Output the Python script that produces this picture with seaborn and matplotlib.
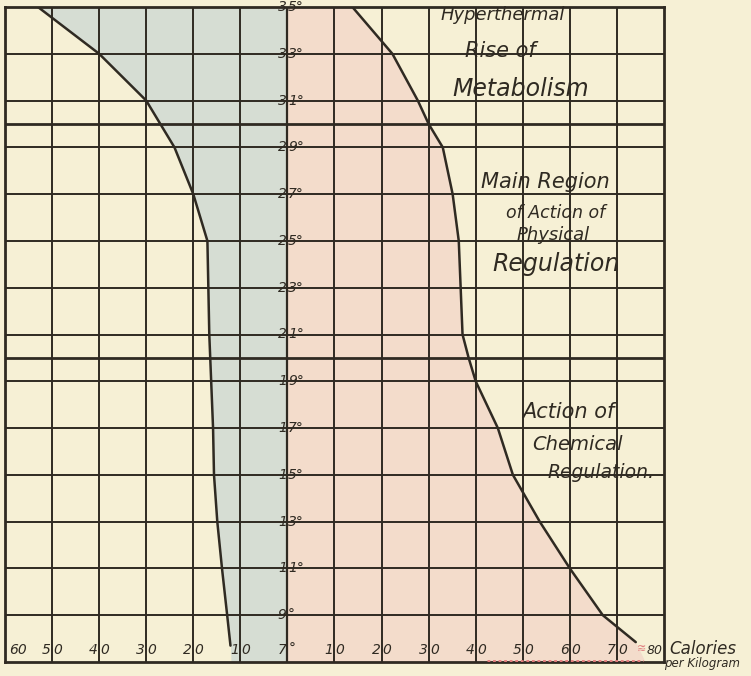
import numpy as np
import pandas as pd
import seaborn as sns
import matplotlib.pyplot as plt

# temperature (deg C) vs calories per kilogram
left_temps = [35, 33, 31, 29, 27, 25, 23, 21, 19, 17, 15, 13, 11, 9, 7.7]
left_vals = [-53, -40, -30, -24, -20, -17, -16.8, -16.6, -16.2, -15.8, -15.6, -14.9, -13.9, -12.8, -12.1]

right_temps = [35, 33, 31, 30, 29, 27, 25, 23, 21, 20, 19, 17, 15, 13, 11, 9, 7.85]
right_vals = [13.8, 22.3, 27.7, 30, 33, 35.1, 36.4, 36.8, 37.2, 38.5, 40, 44.7, 47.9, 53.6, 60, 67, 74]

grid_temps = [9, 11, 13, 15, 17, 19, 21, 23, 25, 27, 29, 31, 33]
zone_temps = [20, 30]
cal_lines = [-50, -40, -30, -20, -10, 0, 10, 20, 30, 40, 50, 60, 70]

temp_labels = ["35°", "33°", "31°", "29°", "27°", "25°", "23°", "21°", "19°", "17°", "15°", "13°", "11°", "9°"]
temp_label_vals = [35, 33, 31, 29, 27, 25, 23, 21, 19, 17, 15, 13, 11, 9]
cal_labels = ["50", "40", "30", "20", "10", "10", "20", "30", "40", "50", "60", "70"]
cal_label_vals = [-50, -40, -30, -20, -10, 10, 20, 30, 40, 50, 60, 70]

notes = ["Hyperthermal", "Rise of", "Metabolism", "Main Region", "of Action of",
         "Physical", "Regulation", "Action of", "Chemical", "Regulation."]
note_x = [45.7, 45.3, 49.6, 54.9, 57.0, 56.4, 57.0, 59.6, 61.7, 66.6]
note_y = [34.66, 33.1, 31.5, 27.5, 26.2, 25.25, 24.0, 17.7, 16.3, 15.1]
note_size = [13, 15, 17, 15, 12.5, 13, 17, 15, 14, 13.5]

paper = "#f6f0d5"
ink = "#2f2a22"

sns.set_style("white")
fig = plt.figure(figsize=(7.51, 6.76), dpi=100, facecolor=paper)
ax = fig.add_axes([5 / 751, 1 - 662 / 676, 659 / 751, 655 / 676])
ax.set_facecolor(paper)

left = pd.DataFrame({"temp": left_temps, "cal": left_vals})
right = pd.DataFrame({"temp": right_temps, "cal": right_vals})

# shaded zones
ax.fill_betweenx(left["temp"].tolist() + [7], left["cal"].tolist() + [-12.0], 0,
                 color="#d6ddd3", lw=0, zorder=1)
ax.fill_betweenx(right["temp"].tolist() + [7], 0, right["cal"].tolist() + [76],
                 color="#f3dccb", lw=0, zorder=1)

# grid
for t in grid_temps:
    ax.axhline(t, color=ink, lw=1.4, zorder=2)
for t in zone_temps:
    ax.axhline(t, color=ink, lw=2.0, zorder=2)
for c in cal_lines:
    ax.axvline(c, color=ink, lw=1.6 if c == 0 else 1.4, zorder=2)

sns.lineplot(data=left, x="cal", y="temp", sort=False, estimator=None,
             color=ink, lw=1.8, ax=ax, zorder=3)
sns.lineplot(data=right, x="cal", y="temp", sort=False, estimator=None,
             color=ink, lw=1.8, ax=ax, zorder=3)

# red marks near the end of the right curve
ax.plot([42.5, 75.5], [7.06, 7.06], color="#e07a7a", lw=2, ls=(0, (1, 1)), zorder=3)
ax.text(75.2, 7.55, "≋", color="#e08080", fontsize=8, ha="center", va="center", zorder=3)

hand = dict(family="DejaVu Sans", style="italic", color=ink)

# temperature labels straddling the middle line
for lab, t in zip(temp_labels, temp_label_vals):
    ax.text(-0.15, t, lab[0], ha="right", va="center", fontsize=10, zorder=4, **hand)
    ax.text(0.15, t, lab[1:], ha="left", va="center", fontsize=10, zorder=4, **hand)
ax.text(-0.15, 7.5, "7", ha="right", va="center", fontsize=10, zorder=4, **hand)
ax.text(0.25, 7.55, "°", ha="left", va="center", fontsize=10, zorder=4, **hand)

# calorie labels along the bottom, digits either side of the grid line
ax.text(-57.2, 7.5, "60", ha="center", va="center", fontsize=10, zorder=4, **hand)
for lab, c in zip(cal_labels, cal_label_vals):
    ax.text(c - 0.25, 7.5, lab[0], ha="right", va="center", fontsize=10, zorder=4, **hand)
    ax.text(c + 0.25, 7.5, lab[1], ha="left", va="center", fontsize=10, zorder=4, **hand)
ax.text(78.0, 7.5, "80", ha="center", va="center", fontsize=9, zorder=4, **hand)
ax.text(81.2, 7.55, "Calories", ha="left", va="center", fontsize=12, clip_on=False, **hand)
ax.text(80.0, 6.95, "per Kilogram", ha="left", va="center", fontsize=8.5, clip_on=False, **hand)

for s, x, y, fs in zip(notes, note_x, note_y, note_size):
    ax.text(x, y, s, ha="center", va="center", fontsize=fs, zorder=4, **hand)

ax.set_xlim(-60, 80)
ax.set_ylim(7, 35)
ax.set_xticks([])
ax.set_yticks([])
ax.set_xlabel("")
ax.set_ylabel("")
for sp in ax.spines.values():
    sp.set_color(ink)
    sp.set_linewidth(2)
    sp.set_visible(True)

fig.savefig("out.png", dpi=100, facecolor=paper)
